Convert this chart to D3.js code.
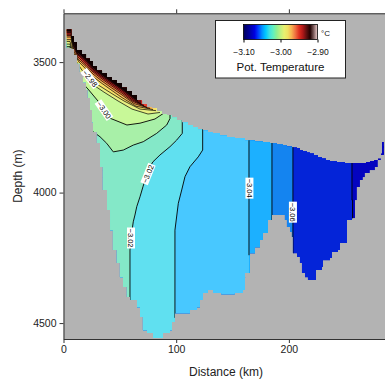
<!DOCTYPE html>
<html>
<head>
<meta charset="utf-8">
<script src="https://cdn.jsdelivr.net/npm/d3@7"></script>
<style>
  body { margin: 0; background: #fff; }
  svg { display: block; font-family: "Liberation Sans", Arial, sans-serif; }
</style>
</head>
<body>
<div class="container"></div>
<script>
// axis ticks
const xTicks = [0, 100, 200];
const yTicks = [3500, 4000, 4500];
const cbarTicks = [-3.10, -3.00, -2.90];

// contour levels (deg C) and the fill of each band, coldest first
const levels = [-3.07, -3.06, -3.05, -3.04, -3.03, -3.02, -3.01, -3.00, -2.99, -2.98, -2.97, -2.96, -2.95, -2.94, -2.93, -2.92];
const bandColors = ['#0404c0', '#0424d8', '#1484f0', '#1cb0ff', '#48c8ff', '#60e0f0', '#84e8c8', '#a8f0a8', '#c8f898',
                    '#e8f080', '#f8e068', '#f8b858', '#f08040', '#e84030', '#c02020', '#601010', '#100000'];

// colour bar stops
const cbarValues = [-3.10, -3.08, -3.07, -3.06, -3.05, -3.04, -3.03, -3.02, -3.01, -3.00, -2.99, -2.98, -2.97, -2.96, -2.95, -2.94, -2.93, -2.92, -2.91, -2.90];
const cbarColors = ['#00005a', '#0000b0', '#0000e0', '#0040ff', '#0090ff', '#00c8ff', '#40e0e0', '#60f0c0', '#90f090', '#c0f080',
                    '#e8f070', '#f0e060', '#f8b050', '#f07040', '#e03020', '#b01818', '#601010', '#200000', '#806060', '#f0d0d0'];

// upper and lower edge of the data, [km, m], step after each point
const topEdge = [[2.7, 3374], [7.1, 3400], [9.3, 3423], [12.0, 3454], [16.4, 3469], [20.0, 3485], [23.5, 3496], [26.2, 3515],
  [29.7, 3531], [34.2, 3542], [38.6, 3557], [43.0, 3569], [47.4, 3580], [51.9, 3596], [56.3, 3611], [60.8, 3626], [65.2, 3646],
  [69.7, 3661], [74.1, 3672], [78.5, 3676], [83.0, 3688], [87.4, 3699], [91.8, 3703], [96.3, 3711], [100.7, 3722], [105.1, 3730],
  [110.5, 3741], [114.9, 3749], [119.3, 3757], [123.8, 3761], [128.2, 3768], [132.7, 3772], [138.9, 3780], [145.1, 3787],
  [152.2, 3791], [161.1, 3799], [169.9, 3803], [177.0, 3806], [183.2, 3810], [189.4, 3814], [194.8, 3818], [198.3, 3822],
  [202.7, 3826], [207.2, 3829], [209.8, 3837], [212.5, 3841], [216.1, 3845], [218.7, 3849], [222.3, 3856], [225.8, 3864],
  [229.4, 3868], [232.9, 3875], [236.5, 3879], [242.7, 3883], [249.8, 3887], [268.4, 3883], [271.9, 3879], [275.5, 3875],
  [279.0, 3868], [281.7, 3849], [282.6, 3806]];
const bottomEdge = [[2.7, 3446], [7.1, 3450], [9.3, 3473], [12.0, 3504], [14.6, 3538], [17.3, 3577], [20.0, 3607], [21.7, 3638],
  [23.5, 3684], [25.3, 3730], [26.2, 3768], [29.7, 3810], [32.4, 3902], [35.0, 3990], [38.6, 4067], [41.3, 4144], [43.9, 4220],
  [47.4, 4270], [50.1, 4324], [52.8, 4362], [56.3, 4400], [59.0, 4412], [65.2, 4439], [67.9, 4477], [70.5, 4527], [74.1, 4538],
  [79.4, 4557], [88.3, 4538], [94.5, 4527], [96.3, 4496], [98.9, 4462], [112.2, 4450], [118.5, 4439], [121.1, 4412],
  [123.8, 4385], [128.2, 4373], [132.7, 4385], [140.0, 4390], [152.0, 4385], [159.3, 4373], [161.1, 4308], [165.5, 4232],
  [169.9, 4209], [174.4, 4182], [177.0, 4155], [181.5, 4105], [185.0, 4086], [196.5, 4105], [198.3, 4132], [201.0, 4151],
  [202.7, 4170], [203.6, 4232], [207.2, 4247], [209.8, 4270], [211.6, 4308], [214.3, 4324], [216.9, 4335], [224.0, 4297],
  [229.4, 4285], [230.3, 4259], [236.5, 4251], [238.2, 4228], [243.6, 4220], [245.3, 4193], [251.6, 4105], [256.0, 4098],
  [258.7, 4029], [260.4, 3979], [263.1, 3952], [265.7, 3941], [267.5, 3925], [271.9, 3914], [276.4, 3902], [279.0, 3875],
  [281.7, 3856]];
const lastKm = 284.4;

// contour lines [km, m], each from the upper edge to the lower-left edge
const c307 = [[256.0, 3860], [256.0, 4029], [256.5, 4029], [256.5, 4120]];
const c306 = [[203.6, 3800], [203.6, 4250]];
const c305 = [[185.0, 3790], [185.0, 4110]];
const c304 = [[164.6, 3785], [164.6, 4240]];
const c303 = [[123.5, 3740], [123.5, 3837], [119.6, 3863], [112.2, 3901], [107.8, 3939], [104.9, 3990], [101.9, 4041],
  [98.9, 4144], [98.9, 4480]];
const c302 = [[105.4, 3715], [105.4, 3773], [100.4, 3799], [94.5, 3824], [85.6, 3856], [79.4, 3882], [75.0, 3914], [70.5, 3978],
  [67.9, 4016], [65.0, 4054], [63.4, 4086], [61.9, 4112], [60.5, 4155], [59.0, 4220], [59.0, 4430]];
const c301 = [[94.5, 3690], [94.5, 3716], [91.6, 3741], [82.7, 3773], [70.8, 3805], [61.9, 3818], [53.1, 3837], [44.2, 3844],
  [38.3, 3811], [32.4, 3786], [26.4, 3767], [22.0, 3750]];
const c300 = [[89.2, 3695], [81.2, 3718], [67.9, 3734], [56.3, 3741], [41.3, 3715], [30.6, 3649], [21.7, 3603], [14.6, 3569],
  [10.2, 3538], [5.8, 3441], [1.3, 3441]];
const c299 = [[85.6, 3693], [75.0, 3699], [60.8, 3680], [48.4, 3649], [35.9, 3615], [25.3, 3584], [16.4, 3550], [11.1, 3515],
  [7.5, 3466], [5.8, 3431], [1.3, 3431]];
const c298 = [[82.1, 3686], [67.9, 3680], [53.7, 3649], [43.0, 3621], [32.4, 3592], [23.5, 3565], [16.4, 3531], [11.1, 3496],
  [7.5, 3450], [5.8, 3421], [1.3, 3421]];
const c297 = [[79.4, 3682], [64.3, 3669], [51.9, 3636], [43.0, 3609], [34.2, 3582], [26.2, 3556], [20.0, 3527], [13.8, 3500],
  [9.3, 3469], [6.7, 3414], [1.3, 3414]];
const c296 = [[76.8, 3678], [62.6, 3659], [51.9, 3626], [43.0, 3600], [34.2, 3573], [26.2, 3546], [20.0, 3517], [12.9, 3489],
  [9.3, 3458], [6.7, 3404], [1.3, 3404]];
const c295 = [[74.1, 3674], [60.8, 3649], [51.9, 3619], [43.0, 3592], [34.2, 3565], [26.2, 3538], [20.0, 3510], [12.9, 3481],
  [9.3, 3446], [6.7, 3398], [1.3, 3398]];
const c294 = [[71.4, 3667], [60.8, 3644], [51.9, 3613], [43.0, 3586], [34.2, 3559], [26.2, 3533], [20.0, 3502], [12.9, 3473],
  [8.9, 3435], [6.7, 3393], [1.3, 3393]];
const c293 = [[68.8, 3661], [60.8, 3638], [51.9, 3607], [43.0, 3580], [34.2, 3554], [26.2, 3527], [20.0, 3496], [12.0, 3466],
  [8.4, 3423], [6.7, 3387], [1.3, 3387]];
const c292 = [[66.1, 3649], [60.8, 3632], [51.9, 3602], [43.0, 3575], [34.2, 3548], [26.2, 3521], [20.0, 3490], [12.0, 3460],
  [8.0, 3408], [6.7, 3381], [1.3, 3381]];
const contourLines = [c307, c306, c305, c304, c303, c302, c301, c300, c299, c298, c297, c296, c295, c294, c293, c292];

// labels: value, km, m, angle
const contourLabels = [[-2.98, 23.5, 3563, 52], [-3.00, 35.9, 3684, 55], [-3.02, 75.0, 3929, -68],
  [-3.02, 59.9, 4174, 90], [-3.04, 165.0, 3983, 90], [-3.06, 203.6, 4075, 90]];

const width = 385, height = 380;
const margin = {top: 13.3, left: 63.5};
const plotW = 322.5, plotH = 325.7;

const x = d3.scaleLinear().domain([0, 286.2]).range([0, plotW]);
const y = d3.scaleLinear().domain([3313, 4561]).range([0, plotH]);

const svg = d3.select('.container').append('svg')
  .attr('width', width).attr('height', height);

const g = svg.append('g').attr('transform', `translate(${margin.left},${margin.top})`);

g.append('rect').attr('width', plotW).attr('height', plotH).attr('fill', '#b3b3b3');

// staircase through the edge points
function stairs(pts) {
  const out = [];
  pts.forEach((p, i) => {
    const next = i < pts.length - 1 ? pts[i + 1][0] : lastKm;
    out.push([p[0], p[1]], [next, p[1]]);
  });
  return out;
}
const region = stairs(topEdge).concat(stairs(bottomEdge).reverse());
const line = d3.line().x(d => x(d[0])).y(d => y(d[1]));

svg.append('defs').append('clipPath').attr('id', 'dataClip')
  .append('path').attr('d', line(region) + 'Z');

const field = g.append('g').attr('clip-path', 'url(#dataClip)');

field.append('path').attr('d', line(region) + 'Z').attr('fill', bandColors[0]);

// warm side of each contour = up and to the left of it
contourLines.forEach((pts, i) => {
  const first = pts[0], last = pts[pts.length - 1];
  const poly = pts.concat([[last[0], 4800], [-60, 4800], [-60, 3200], [first[0], 3200]]);
  field.append('path').attr('d', line(poly) + 'Z').attr('fill', bandColors[i + 1]);
});

field.selectAll('path.contour')
  .data(contourLines)
  .enter().append('path')
  .attr('class', 'contour')
  .attr('d', d => line(d))
  .attr('fill', 'none')
  .attr('stroke', '#000')
  .attr('stroke-width', (d, i) => levels[i] > -3.0 ? 0.7 : 0.9);

// contour labels
const fmt = d => '\u2212' + Math.abs(d).toFixed(2);
const lab = g.selectAll('g.clabel')
  .data(contourLabels)
  .enter().append('g')
  .attr('class', 'clabel')
  .attr('transform', d => `translate(${x(d[1])},${y(d[2])}) rotate(${d[3]})`);
lab.append('rect').attr('x', -10.5).attr('y', -4).attr('width', 21).attr('height', 8).attr('fill', '#fff');
lab.append('text').attr('text-anchor', 'middle').attr('dy', '0.35em')
  .attr('font-size', 7.5).attr('fill', '#000').text(d => fmt(d[0]));

// axes (ticked frame on left, bottom and top)
const axisColor = '#333';
const yAxis = g.append('g').call(d3.axisLeft(y).tickValues(yTicks).tickFormat(d3.format('d'))
  .tickSize(4).tickPadding(3).tickSizeOuter(0));
const xAxis = g.append('g').attr('transform', `translate(0,${plotH})`)
  .call(d3.axisBottom(x).tickValues(xTicks).tickFormat(d3.format('d')).tickSize(4).tickPadding(3).tickSizeOuter(0));
const topAxis = g.append('g')
  .call(d3.axisTop(x).tickValues(xTicks).tickFormat('').tickSize(4).tickSizeOuter(0));
[yAxis, xAxis, topAxis].forEach(a => {
  a.selectAll('path, line').attr('stroke', axisColor);
  a.selectAll('text').attr('font-size', 10.5).attr('fill', '#222').attr('font-family', '"Liberation Sans", Arial, sans-serif');
});

svg.append('text').attr('transform', `translate(22,${margin.top + plotH / 2}) rotate(-90)`)
  .attr('text-anchor', 'middle').attr('font-size', 12).attr('fill', '#222').text('Depth (m)');
svg.append('text').attr('x', 226).attr('y', 376)
  .attr('text-anchor', 'middle').attr('font-size', 12).attr('fill', '#222').text('Distance (km)');

// legend with colour bar
const leg = svg.append('g');
leg.append('rect').attr('x', 215.5).attr('y', 20.5).attr('width', 130).attr('height', 57.5)
  .attr('fill', '#fff').attr('stroke', '#222');
const grad = svg.select('defs').append('linearGradient').attr('id', 'cbar');
const cb = d3.scaleLinear().domain([-3.10, -2.90]).range([243.5, 317.5]);
cbarValues.forEach((v, i) => {
  grad.append('stop').attr('offset', (v + 3.10) / 0.20).attr('stop-color', cbarColors[i]);
});
leg.append('rect').attr('x', cb(-3.10)).attr('y', 24.5).attr('width', cb(-2.90) - cb(-3.10)).attr('height', 15)
  .attr('fill', 'url(#cbar)').attr('stroke', '#000').attr('stroke-width', 0.8);
const cbAxis = leg.append('g').attr('transform', 'translate(0,39.5)')
  .call(d3.axisBottom(cb).tickValues(cbarTicks).tickSize(3).tickPadding(6).tickFormat(fmt));
cbAxis.select('.domain').remove();
cbAxis.selectAll('line').attr('stroke', '#000');
cbAxis.selectAll('text').attr('font-size', 8.5).attr('fill', '#111').attr('font-family', '"Liberation Sans", Arial, sans-serif');
leg.append('text').attr('x', 321).attr('y', 36).attr('font-size', 8).attr('fill', '#111').text('\u00b0C');
leg.append('text').attr('x', 280.5).attr('y', 71).attr('text-anchor', 'middle').attr('font-size', 11.5)
  .attr('fill', '#111').text('Pot. Temperature');
</script>
</body>
</html>
